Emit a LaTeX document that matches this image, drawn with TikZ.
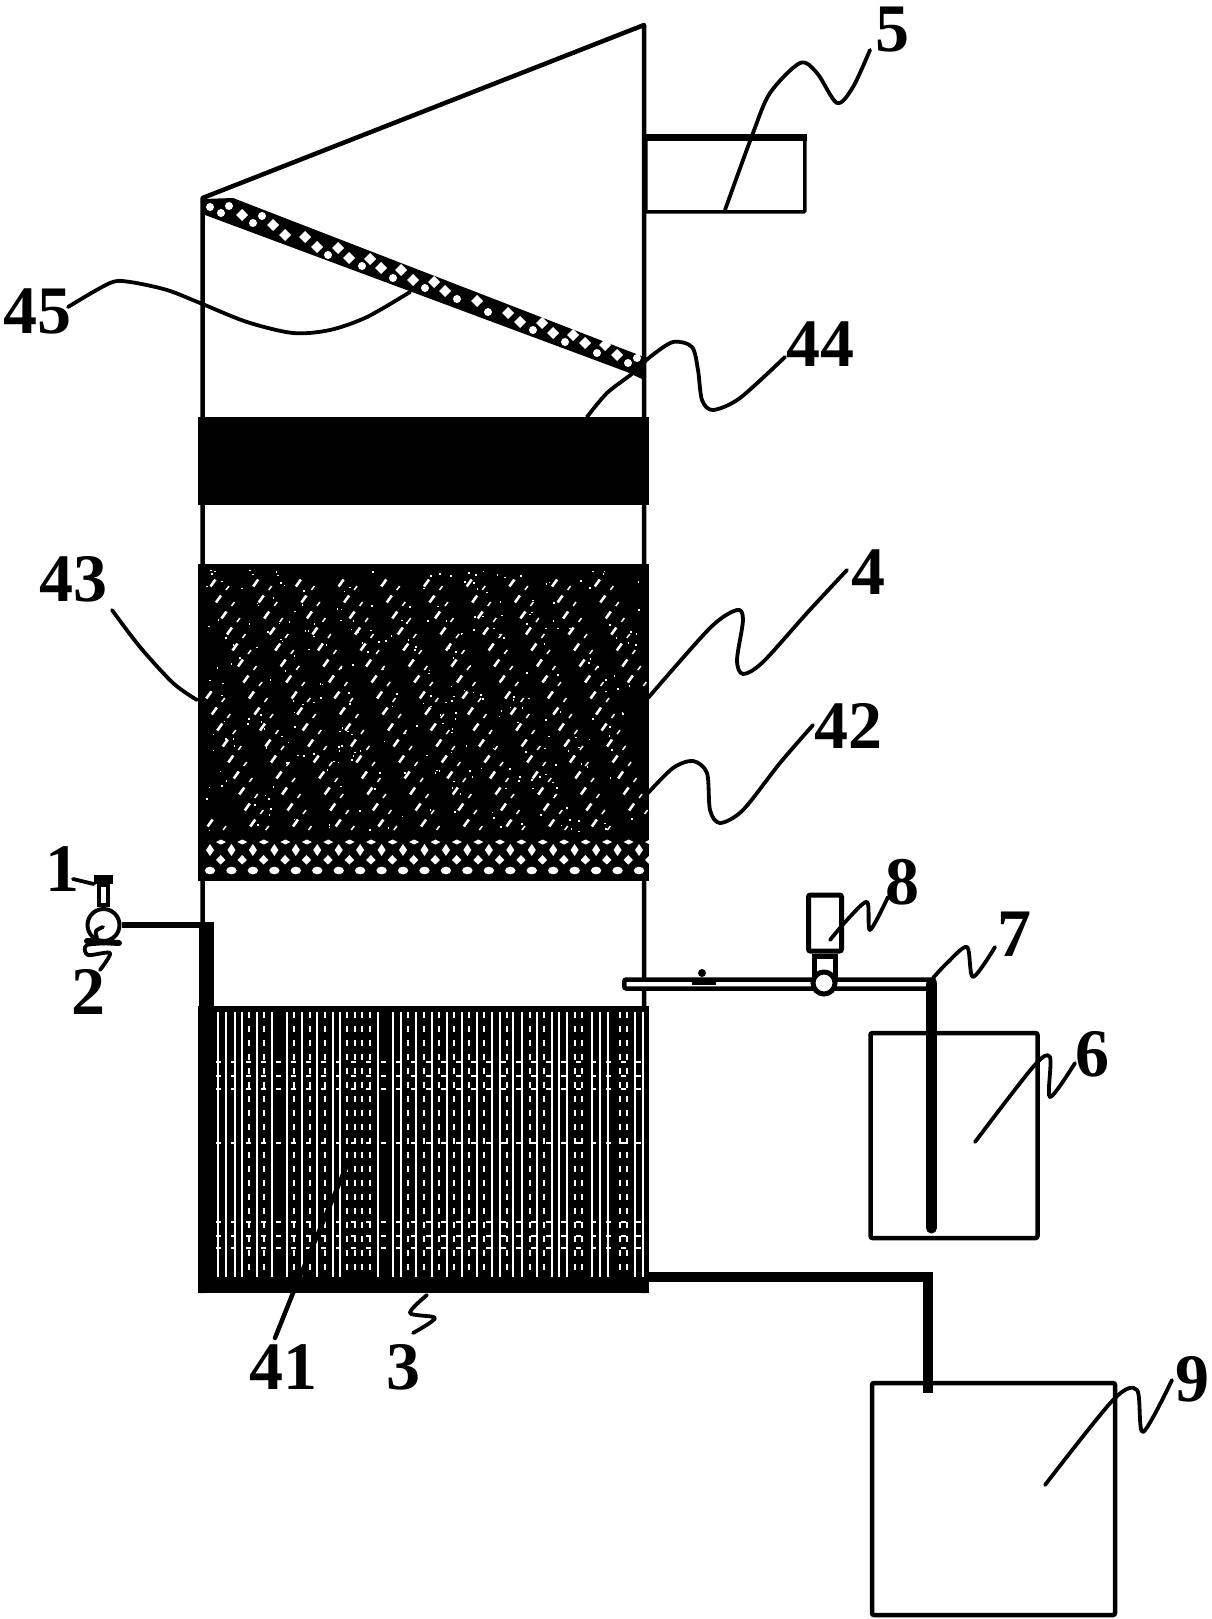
\documentclass[tikz,border=0pt]{standalone}
\usepackage{fontspec}
\setmainfont{Liberation Serif}
\usepackage{tikz}
\usetikzlibrary{positioning}
\tikzstyle{blk} = [fill=black, inner sep=0pt, outer sep=0pt, minimum width=451pt]
\tikzstyle{wall} = [draw, line width=4.5pt, line join=round]
\tikzstyle{tank} = [draw, line width=4.5pt, rounded corners=2pt, inner sep=0pt, outer sep=0pt]
\tikzstyle{pipe} = [draw, line width=10pt]
\tikzstyle{lead} = [draw, line width=3.8pt, line cap=round, line join=round]
\tikzstyle{num} = [font=\fontsize{68}{70}\selectfont\bfseries, inner sep=0pt, text depth=0pt]
\tikzstyle{fibre} = [draw=white, line width=1.9pt]
\tikzstyle{fibredot} = [draw=white, line width=1.7pt, dash pattern=on 6pt off 8pt]
\tikzstyle{fibrecross} = [draw=white, line width=1.6pt, dash pattern=on 5pt off 10pt]

\begin{document}
\begin{tikzpicture}[x=1pt, y=-1pt]
	\useasboundingbox (0,0) rectangle (1212,1619);

	\node[blk, minimum height=88pt] at (423.5,461) (carbon) {};
	\node[blk, minimum height=270pt, below=59pt of carbon] (dense) {};
	\node[blk, minimum height=47pt, below=0pt of dense] (mesh) {};
	\node[blk, minimum height=287pt, below=125pt of mesh] (fibres) {};
	\node[blk, minimum width=15pt, minimum height=84pt, anchor=north west] at (199,922) (thickwall) {};

	\draw[wall] (202.5,1293) -- (202.5,198) -- (644,25) -- (644,1293);

	\fill[black] (203,199) -- (233,198) -- (644,357) -- (644,380) -- (627,372) -- (205,215) -- cycle;
	\foreach \hx/\hy in {242/215,273/225,285/235,305/237,317/247,338/248,349/258,370/259,381/268,401/270,413/280,434/282,445/291,477/301,508/313,520/322,542/323,553/333,573/335,585/343,605/345,617/355}
		\fill[white] (\hx-6,\hy) -- (\hx,\hy-6) -- (\hx+6,\hy) -- (\hx,\hy+6) -- cycle;
	\foreach \hx/\hy in {210/207,221/213,229/206,253/223,262/216,328/255,362/266,393/278,425/288,457/299,488/312,533/330,565/342,597/353,628/363,637/358}
		\fill[white] (\hx,\hy) circle (4pt);

	\foreach \c in {0,...,20} {
		\pgfmathsetmacro\mx{210+21.45*\c}
		\fill[white] (\mx,842) ++(6,0) -- ++(5,-2.5) -- ++(5,2.5) -- ++(-5,2.5) -- cycle;
		\fill[white] (\mx,850) ++(-4,0) -- ++(4,-6) -- ++(4,6) -- ++(-4,6) -- cycle;
		\fill[white] (\mx,860) ++(6,0) -- ++(4.7,-5) -- ++(4.7,5) -- ++(-4.7,4.5) -- cycle;
		\fill[white] (\mx,870.5) ellipse (5.2pt and 3.8pt);
	}

	\foreach \r in {0,...,15} {
		\foreach \c in {0,...,9} {
			\pgfmathsetmacro\sx{206+mod(7+42.7*\c+5.5*\r,427)}
			\pgfmathsetmacro\sy{583+16*\r}
			\draw[white, line width=2.6pt] (\sx-2.5,\sy+3.5) -- (\sx+2.5,\sy-3.5);
			\draw[white, line width=1.5pt] (\sx+13,\sy+7) -- (\sx+16,\sy+3);
		}
	}
	\pgfmathsetseed{11}
	\foreach \k in {1,...,300} {
		\pgfmathsetmacro\dx{206+rnd*436}
		\pgfmathsetmacro\dy{569+rnd*262}
		\fill[white] (\dx,\dy) rectangle ++(1.6,1.6);
	}

	\foreach \fx in {218,226,235,242,257,272,287,302,317,333,340,378,393,401,416,432,447,462,477,492,500,513,522,537,552,559,567,592,600,608,635,643}
		\draw[fibre] (\fx,1012) -- (\fx,1277);
	\foreach \fx in {249,264,294,310,325,347,355,362,370,408,424,439,454,469,484,507,530,544,575,582,620,627}
		\draw[fibredot] (\fx,1012) -- (\fx,1277);
	\foreach \fy in {1062,1076,1089,1143,1222,1236,1248}
		\draw[fibrecross] (216,\fy) -- (645,\fy);

	\node[draw, line width=3.6pt, rounded corners=1pt, inner sep=0pt, minimum width=159pt, minimum height=73pt, anchor=north west] at (644,137) (hood) {};
	\draw[line width=7pt] (hood.north west) -- (hood.north east);

	\node[tank, minimum width=167pt, minimum height=205pt, anchor=north west] at (870.5,1033) (tank6) {};
	\node[tank, minimum width=243pt, minimum height=232pt, anchor=north west] at (872,1383) (tank9) {};

	\coordinate (outlet) at (647,1277);
	\coordinate (inlet9) at (928,1393);
	\draw[pipe] (outlet) -| (inlet9);

	\node[draw, fill=white, line width=4.5pt, rounded corners=2pt, inner sep=0pt, minimum width=310pt, minimum height=9pt, anchor=west] at (622,984) (tube) {};
	\coordinate (dip6) at (931.5,1228);
	\draw[line width=11pt, line cap=round] (dip6) -- (dip6 |- tube.east);
	\fill (702,973) circle (4pt);
	\fill (692,978) rectangle (716,985);

	\node[draw, fill=white, line width=5pt, inner sep=0pt, minimum width=21pt, minimum height=20pt] at (825,966) (neck8) {};
	\node[draw, fill=white, circle, line width=5pt, inner sep=0pt, minimum size=22pt] at (824,983) (valve8) {};
	\node[draw, fill=white, line width=5pt, rounded corners=2pt, inner sep=0pt, minimum width=33pt, minimum height=56pt, above=0pt of neck8] (head8) {};

	\node[draw, circle, line width=4pt, inner sep=0pt, minimum size=32pt] at (103.5,925) (pump2) {};
	\draw[line width=6pt] (pump2.east) -- (thickwall.north west |- pump2.east);
	\node[draw, fill=white, line width=4pt, inner sep=0pt, minimum width=9pt, minimum height=20pt, above=0pt of pump2] (neck1) {};
	\node[fill=black, inner sep=0pt, minimum width=19pt, minimum height=9pt, above=-1pt of neck1] (cap1) {};
	\draw[line width=6pt, line cap=round] (87,941) -- (119,943);
	\draw[lead] plot[smooth] coordinates {(103,927) (96,931) (97,938)};
	\draw[lead] (73,879) -- (cap1.south west);

	\node[num] at (62,869) (n1) {1};
	\node[num] at (88,992) (n2) {2};
	\node[num] at (403,1367) (n3) {3};
	\node[num] at (868,572) (n4) {4};
	\node[num] at (892,29) (n5) {5};
	\node[num] at (1092,1054) (n6) {6};
	\node[num] at (1014,934) (n7) {7};
	\node[num] at (902,882) (n8) {8};
	\node[num] at (1192,1379) (n9) {9};
	\node[num] at (283,1367) (n41) {41};
	\node[num] at (848,726) (n42) {42};
	\node[num] at (73,579) (n43) {43};
	\node[num] at (820,344) (n44) {44};
	\node[num] at (37,311) (n45) {45};

	\draw[lead] plot[smooth] coordinates {(725,210) (753,133) (770,93) (800,63) (817,73) (837,103) (853,87) (870,50)};
	\draw[lead] plot[smooth] coordinates {(68,307) (110,283) (130,282) (167,290) (200,303) (247,322) (293,333) (330,330) (367,317) (410,292)};
	\draw[lead] plot[smooth] coordinates {(587,417) (607,393) (633,373) (650,357) (673,342) (692,347) (698,370) (702,400) (713,410) (740,398) (785,357)};
	\draw[lead] plot[smooth] coordinates {(648,698) (710,628) (737,610) (743,620) (737,660) (743,674) (763,662) (807,613) (847,570)};
	\draw[lead] plot[smooth] coordinates {(648,793) (673,768) (693,761) (707,773) (710,810) (720,823) (743,810) (780,763) (813,725)};
	\draw[lead] plot[smooth] coordinates {(112,610) (140,647) (173,683) (197,700)};
	\draw[lead, line width=4.5pt] (347,1165) -- (293,1293) -- (275,1338);
	\draw[lead] plot[smooth] coordinates {(427,1295) (410,1313) (435,1318) (413,1333)};
	\draw[lead] plot[smooth] coordinates {(118,943) (87,945) (88,955) (110,953) (100,970)};
	\draw[lead] plot[smooth] coordinates {(830,940) (847,920) (867,902) (870,930) (888,897)};
	\draw[lead] plot[smooth] coordinates {(933,978) (947,963) (967,947) (973,977) (995,947)};
	\draw[lead] plot[smooth] coordinates {(975,1142) (1033,1067) (1050,1057) (1050,1097) (1075,1063)};
	\draw[lead] plot[smooth] coordinates {(1045,1485) (1113,1400) (1137,1390) (1143,1432) (1172,1380)};
\end{tikzpicture}
\end{document}
